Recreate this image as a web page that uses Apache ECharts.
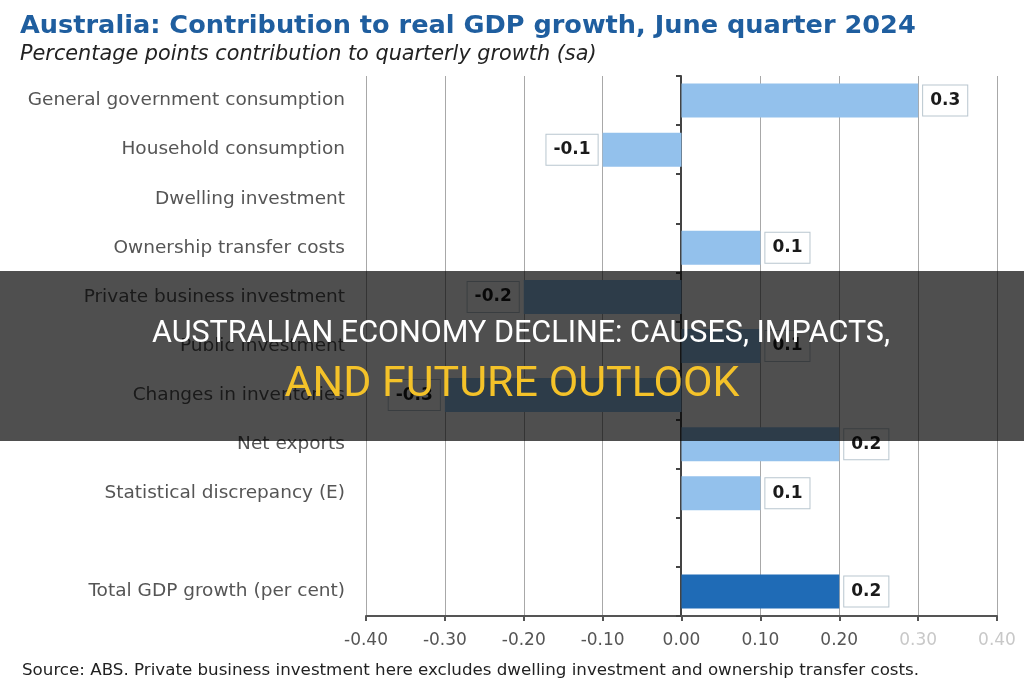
<!DOCTYPE html>
<html>
<head>
<meta charset="utf-8">
<script src="https://cdn.jsdelivr.net/npm/echarts@6/dist/echarts.min.js"></script>
<style>
	html, body { margin: 0; padding: 0; background: #fff; }
	#chart { width: 1024px; height: 680px; }
</style>
</head>
<body>
<div id="chart"></div>
<script>
// categories top to bottom ('' is the blank spacer row)
var categories = [
	'General government consumption',
	'Household consumption',
	'Dwelling investment',
	'Ownership transfer costs',
	'Private business investment',
	'Public investment',
	'Changes in inventories',
	'Net exports',
	'Statistical discrepancy (E)',
	'',
	'Total GDP growth (per cent)'
];
var contributions = [0.3, -0.1, 0, 0.1, -0.2, 0.1, -0.3, 0.2, 0.1, null, 0.2];
var xTicks = [-0.4, -0.3, -0.2, -0.1, 0, 0.1, 0.2, 0.3, 0.4];

var titleText = 'Australia: Contribution to real GDP growth, June quarter 2024';
var subText = 'Percentage points contribution to quarterly growth (sa)';
var sourceText = 'Source: ABS. Private business investment here excludes dwelling investment and ownership transfer costs.';
var bannerLine1 = 'AUSTRALIAN ECONOMY DECLINE: CAUSES, IMPACTS,';
var bannerLine2 = 'AND FUTURE OUTLOOK';

var chart = echarts.init(document.getElementById('chart'));

// fit the condensed banner text to its width in the picture
var measure = function (text, font, target) {
	var ctx = document.createElement('canvas').getContext('2d');
	ctx.font = font;
	return target / ctx.measureText(text).width;
};
var font1 = '32px Roboto';
var font2 = '42px Roboto';
var sx1 = measure(bannerLine1, font1, 738);
var sx2 = measure(bannerLine2, font2, 455);

var lightBlue = '#93c1ec';
var darkBlue = '#1f6bb6';
var baseFont = '"DejaVu Sans"';

var seriesData = contributions.map(function (v, i) {
	var isTotal = categories[i].indexOf('Total') === 0;
	return {
		value: v,
		itemStyle: { color: isTotal ? darkBlue : lightBlue },
		label: {
			show: v !== null && v !== 0,
			position: v < 0 ? 'left' : 'right'
		}
	};
});

var option = {
	animation: false,
	backgroundColor: '#fff',
	textStyle: { fontFamily: baseFont },
	title: [
		{
			text: titleText,
			left: 15, top: 8,
			textStyle: { fontFamily: baseFont, fontSize: 25.6, fontWeight: 'bold', color: '#1f5e9f' }
		},
		{
			text: subText,
			left: 15, top: 39,
			textStyle: { fontFamily: baseFont, fontSize: 20.8, fontStyle: 'italic', fontWeight: 'normal', color: '#222' }
		},
		{
			text: sourceText,
			left: 17, top: 657,
			textStyle: { fontFamily: baseFont, fontSize: 16.7, fontWeight: 'normal', color: '#222' }
		}
	],
	grid: { left: 366, right: 27, top: 76, bottom: 64 },
	xAxis: {
		type: 'value',
		min: -0.4, max: 0.4, interval: 0.1,
		axisLine: { show: true, lineStyle: { color: '#555', width: 2 } },
		axisTick: { show: true, length: 5, lineStyle: { color: '#555', width: 2 } },
		splitLine: { show: true, lineStyle: { color: '#a8a8a8', width: 1 } },
		axisLabel: {
			margin: 16,
			fontSize: 17,
			fontFamily: baseFont,
			color: function (v) { return v > 0.25 ? '#c8c8c8' : '#555'; },
			formatter: function (v) { return v.toFixed(2); }
		}
	},
	yAxis: [
		{
			type: 'category',
			data: categories,
			inverse: true,
			axisLine: { show: false },
			axisTick: { show: false },
			axisLabel: { margin: 21, fontSize: 18.5, color: '#555', fontFamily: baseFont }
		},
		{
			// zero line with its category ticks, shifted onto x = 0
			type: 'category',
			data: categories,
			inverse: true,
			position: 'left',
			offset: -315,
			axisLine: { show: true, lineStyle: { color: '#444', width: 2 } },
			axisTick: { show: true, length: 5, lineStyle: { color: '#444', width: 2 } },
			axisLabel: { show: false }
		}
	],
	series: [
		{
			type: 'bar',
			yAxisIndex: 0,
			barWidth: 34,
			z: 1,
			data: seriesData,
			label: {
				distance: 5,
				formatter: function (p) { return p.value.toFixed(1); },
				fontSize: 17,
				fontWeight: 'bold',
				fontFamily: baseFont,
				color: '#1a1a1a',
				backgroundColor: '#fff',
				borderColor: '#b9c6cf',
				borderWidth: 1,
				padding: [7, 7, 6, 7]
			}
		}
	],
	graphic: [
		{
			type: 'rect',
			z: 100,
			shape: { x: 0, y: 271, width: 1024, height: 170 },
			style: { fill: 'rgba(0,0,0,0.69)' }
		},
		{
			type: 'text',
			z: 101,
			x: 521, y: 334,
			scaleX: sx1,
			style: {
				text: bannerLine1,
				font: font1,
				fill: '#fff',
				textAlign: 'center',
				textVerticalAlign: 'middle'
			}
		},
		{
			type: 'text',
			z: 101,
			x: 512, y: 385,
			scaleX: sx2,
			style: {
				text: bannerLine2,
				font: font2,
				fill: '#f4c229',
				textAlign: 'center',
				textVerticalAlign: 'middle'
			}
		}
	]
};
chart.setOption(option);
</script>
</body>
</html>
